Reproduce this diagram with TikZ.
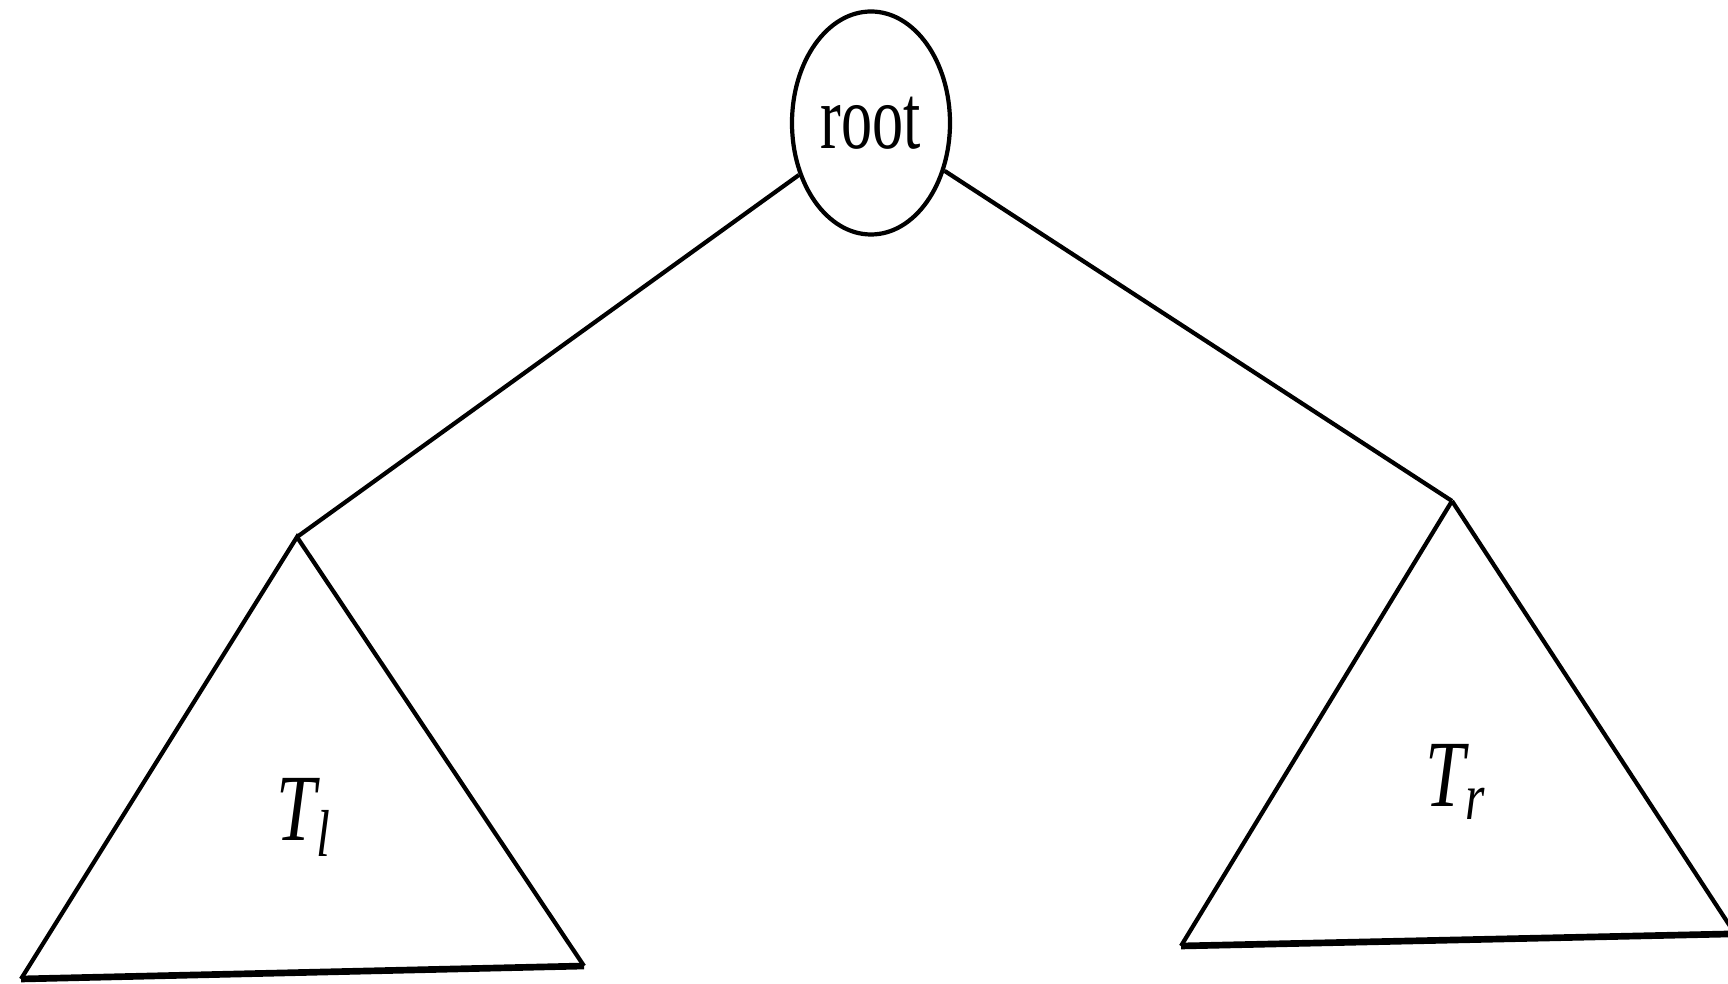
\documentclass[tikz,border=0pt]{standalone}
\usepackage{fontspec}
\setmainfont{Liberation Serif}
\usetikzlibrary{shapes.geometric}

\begin{document}
\begin{tikzpicture}[
    treenode/.style={draw, ellipse, line width=1.2pt, inner sep=0pt,
                     minimum width=1.58cm, minimum height=2.23cm,
                     font=\fontsize{26}{28}\selectfont},
    edge/.style={line width=1.2pt},
    base/.style={line width=1.9pt},
    sublabel/.style={font=\fontsize{27}{29}\selectfont\itshape}
  ]
  \useasboundingbox (0,0) rectangle (17.28,9.84);

  \node[treenode] (root) at (8.71, 8.61) {\scalebox{0.68}[1]{root}};

  % left subtree
  \coordinate (ltop) at (2.97, 4.47);
  \coordinate (lbl) at (0.21, 0.05);
  \coordinate (lbr) at (5.84, 0.18);
  \draw[edge] (lbr) -- (ltop) -- (lbl);
  \draw[base] (lbl) -- (lbr);
  \node[sublabel] (tl) at (3.04, 1.67) {\scalebox{0.75}[1]{T\textsubscript{l}}};

  % right subtree
  \coordinate (rtop) at (14.52, 4.83);
  \coordinate (rbl) at (11.81, 0.38);
  \coordinate (rbr) at (17.28, 0.50);
  \draw[edge] (rtop) -- (rbl);
  \draw[edge] (rtop) -- (17.45, 0.35);
  \draw[base] (rbl) -- (rbr);
  \node[sublabel] (tr) at (14.56, 2.02) {\scalebox{0.75}[1]{T\textsubscript{r}}};

  % links from root
  \draw[edge] (root) -- (ltop);
  \draw[edge] (root) -- (rtop);
\end{tikzpicture}
\end{document}
